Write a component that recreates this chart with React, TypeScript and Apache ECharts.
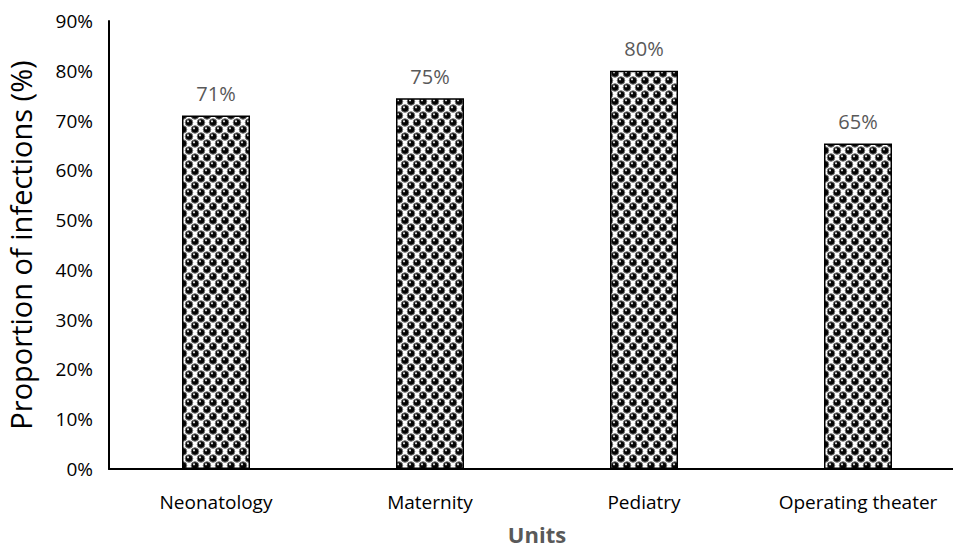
import React, { useEffect, useRef } from "react";
import * as echarts from "echarts";

const categories = ["Neonatology", "Maternity", "Pediatry", "Operating theater"];
const values = [71, 74.5, 80, 65.4];
const labels = ["71%", "75%", "80%", "65%"];
const yTicks = [0, 10, 20, 30, 40, 50, 60, 70, 80, 90];

function makePattern(): HTMLCanvasElement {
  const c = document.createElement("canvas");
  const w = 12;
  const h = 14;
  c.width = w;
  c.height = h;
  const ctx = c.getContext("2d")!;
  ctx.fillStyle = "#ffffff";
  ctx.fillRect(0, 0, w, h);
  const spots = [
    [3, 3.5],
    [9, 10.5],
  ];
  const drawSphere = (x: number, y: number) => {
    ctx.beginPath();
    ctx.arc(x, y, 3.8, 0, Math.PI * 2);
    ctx.fillStyle = "#050505";
    ctx.fill();
    ctx.lineWidth = 1;
    ctx.strokeStyle = "#7a7a7a";
    ctx.stroke();
    ctx.beginPath();
    ctx.arc(x - 1, y - 1.2, 1.1, 0, Math.PI * 2);
    ctx.fillStyle = "#e0e0e0";
    ctx.fill();
  };
  for (const [x, y] of spots) {
    for (const dx of [-w, 0, w]) {
      for (const dy of [-h, 0, h]) {
        drawSphere(x + dx, y + dy);
      }
    }
  }
  return c;
}

export default function App() {
  const ref = useRef<HTMLDivElement>(null);
  useEffect(() => {
    if (!ref.current) return;
    const chart = echarts.init(ref.current, undefined, { renderer: "svg" });
    const pattern = makePattern();
    chart.setOption({
      animation: false,
      grid: { left: 109, right: -12, top: 21, bottom: 83, outerBoundsMode: "none", containLabel: false },
      xAxis: {
        type: "category",
        data: categories,
        name: "Units",
        nameLocation: "middle",
        nameGap: 53,
        nameTextStyle: {
          fontFamily: "Open Sans",
          fontSize: 22,
          lineHeight: 24,
          fontWeight: "bold",
          color: "#595959",
        },
        axisLine: { lineStyle: { color: "#000", width: 2 } },
        axisTick: { show: false },
        axisLabel: { fontFamily: "Open Sans", fontSize: 19, color: "#000", margin: 23 },
      },
      yAxis: {
        type: "value",
        min: 0,
        max: 90,
        interval: 10,
        name: "Proportion of infections (%)",
        nameLocation: "middle",
        nameGap: 74,
        nameTextStyle: { fontFamily: "Open Sans", fontSize: 29, color: "#000" },
        axisLine: { show: true, lineStyle: { color: "#000", width: 2 } },
        axisTick: { show: false },
        splitLine: { show: false },
        axisLabel: {
          fontFamily: "Open Sans",
          fontSize: 19,
          color: "#000",
          margin: 16,
          formatter: (v: number) => (yTicks.includes(v) ? v + "%" : ""),
        },
      },
      series: [
        {
          type: "bar",
          data: values,
          barWidth: 68,
          itemStyle: {
            color: { image: pattern, repeat: "repeat" },
            borderColor: "#000",
            borderWidth: 1.5,
          },
          label: {
            show: true,
            position: "top",
            distance: 12,
            fontFamily: "Open Sans",
            fontSize: 20,
            color: "#595959",
            formatter: (p: any) => labels[p.dataIndex],
          },
        },
      ],
    });
    return () => chart.dispose();
  }, []);
  return (
    <div
      ref={ref}
      style={{ position: "fixed", left: 0, top: 0, width: 953, height: 552, background: "#fff" }}
    />
  );
}
